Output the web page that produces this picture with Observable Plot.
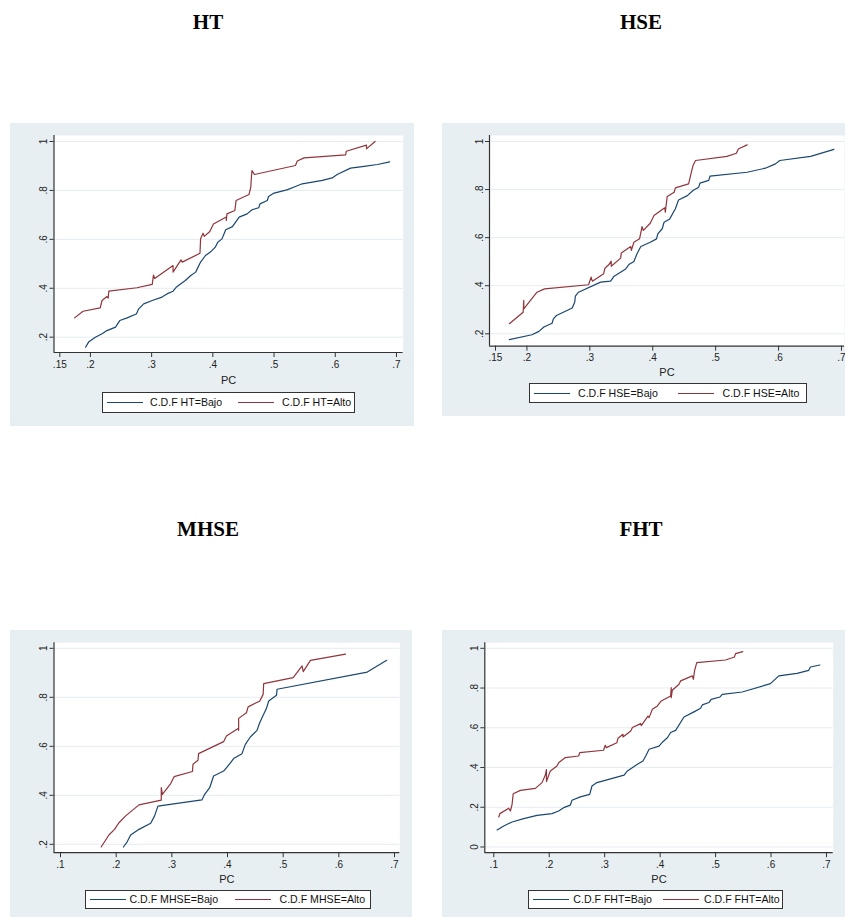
<!DOCTYPE html>
<html><head><meta charset="utf-8">
<script src="https://cdn.jsdelivr.net/npm/d3@7"></script>
<script src="https://cdn.jsdelivr.net/npm/@observablehq/plot@0.6"></script>
<style>
body{margin:0;background:#fff;width:845px;height:917px;position:relative;overflow:hidden;font-family:"Liberation Sans",Arial,sans-serif;}
.title{position:absolute;font-family:"Liberation Serif","Times New Roman",serif;font-weight:bold;font-size:21px;line-height:21px;text-align:center;width:200px;color:#000}
.panel{position:absolute;background:#e8eff2}
.panel svg{position:absolute;left:0;top:0}
.legend{position:absolute;background:#fff;border:1px solid #333;box-sizing:border-box;}
.sw{position:absolute;height:1px}
.lt{position:absolute;top:0;font-size:10.6px;color:#111;white-space:nowrap}
</style></head><body>
<script>
// ---------- data ----------
const titles = ["HT", "HSE", "MHSE", "FHT"];
const seriesNames = ["Bajo", "Alto"];
const xTicks1 = [0.15, 0.2, 0.3, 0.4, 0.5, 0.6, 0.7];
const xTicks2 = [0.1, 0.2, 0.3, 0.4, 0.5, 0.6, 0.7];
const yTicks1 = [0.2, 0.4, 0.6, 0.8, 1];
const yTicks2 = [0, 0.2, 0.4, 0.6, 0.8, 1];

const htBajoX = [0.192,0.197,0.208,0.219,0.227,0.241,0.248,0.260,0.275,0.279,0.287,0.301,0.317,0.325,0.335,0.340,0.355,0.364,0.372,0.380,0.388,0.396,0.404,0.408,0.415,0.421,0.432,0.443,0.456,0.464,0.475,0.477,0.489,0.491,0.500,0.521,0.535,0.546,0.579,0.595,0.603,0.625,0.647,0.669,0.689];
const htBajoY = [0.159,0.180,0.200,0.214,0.227,0.241,0.268,0.279,0.295,0.316,0.336,0.350,0.364,0.377,0.388,0.404,0.432,0.452,0.466,0.507,0.534,0.548,0.568,0.588,0.602,0.639,0.652,0.691,0.704,0.721,0.729,0.745,0.759,0.775,0.789,0.802,0.816,0.827,0.841,0.851,0.865,0.891,0.898,0.906,0.917];
const htAltoX = [0.174,0.188,0.216,0.219,0.227,0.229,0.230,0.276,0.301,0.303,0.305,0.335,0.335,0.348,0.350,0.379,0.380,0.384,0.386,0.395,0.401,0.422,0.422,0.423,0.436,0.438,0.459,0.462,0.463,0.464,0.468,0.535,0.538,0.549,0.617,0.618,0.651,0.651,0.665];
const htAltoY = [0.279,0.306,0.320,0.350,0.366,0.360,0.388,0.402,0.416,0.454,0.440,0.493,0.466,0.516,0.507,0.543,0.602,0.625,0.612,0.632,0.663,0.691,0.677,0.704,0.718,0.759,0.783,0.813,0.854,0.881,0.865,0.902,0.920,0.933,0.945,0.960,0.985,0.970,1.0];

const hseBajoX = [0.172,0.208,0.219,0.227,0.240,0.242,0.247,0.272,0.276,0.277,0.282,0.317,0.333,0.338,0.357,0.362,0.370,0.375,0.381,0.396,0.406,0.408,0.415,0.418,0.427,0.436,0.441,0.455,0.464,0.473,0.475,0.489,0.491,0.550,0.579,0.595,0.602,0.651,0.688];
const hseBajoY = [0.176,0.196,0.210,0.228,0.244,0.262,0.276,0.307,0.332,0.357,0.373,0.415,0.419,0.438,0.470,0.488,0.501,0.533,0.563,0.581,0.595,0.616,0.637,0.664,0.678,0.720,0.757,0.775,0.796,0.810,0.827,0.838,0.856,0.872,0.889,0.907,0.921,0.938,0.967];
const hseAltoX = [0.172,0.194,0.195,0.195,0.216,0.228,0.298,0.302,0.304,0.322,0.324,0.330,0.334,0.334,0.349,0.350,0.365,0.366,0.370,0.379,0.383,0.385,0.396,0.402,0.419,0.420,0.423,0.434,0.436,0.457,0.462,0.464,0.468,0.518,0.533,0.536,0.550];
const hseAltoY = [0.242,0.290,0.339,0.304,0.373,0.387,0.404,0.436,0.419,0.450,0.473,0.487,0.502,0.481,0.515,0.536,0.563,0.547,0.581,0.595,0.646,0.630,0.660,0.692,0.724,0.706,0.771,0.789,0.807,0.824,0.879,0.900,0.921,0.938,0.951,0.969,0.986];

const mhseBajoX = [0.213,0.220,0.226,0.241,0.262,0.269,0.275,0.354,0.359,0.368,0.375,0.393,0.401,0.411,0.426,0.432,0.441,0.453,0.458,0.470,0.474,0.488,0.489,0.651,0.686];
const mhseBajoY = [0.189,0.211,0.238,0.261,0.286,0.316,0.356,0.381,0.404,0.431,0.479,0.499,0.520,0.550,0.570,0.608,0.638,0.665,0.697,0.755,0.785,0.808,0.833,0.903,0.951];
const mhseAltoX = [0.173,0.187,0.197,0.205,0.217,0.241,0.281,0.281,0.283,0.298,0.304,0.337,0.338,0.347,0.348,0.393,0.398,0.419,0.420,0.420,0.434,0.437,0.458,0.464,0.465,0.518,0.534,0.536,0.549,0.612];
const mhseAltoY = [0.189,0.238,0.261,0.288,0.316,0.361,0.380,0.431,0.404,0.448,0.476,0.497,0.527,0.543,0.570,0.619,0.642,0.673,0.665,0.714,0.737,0.761,0.785,0.812,0.856,0.880,0.928,0.905,0.951,0.976];

const fhtBajoX = [0.106,0.118,0.133,0.154,0.178,0.205,0.217,0.226,0.238,0.241,0.256,0.273,0.277,0.286,0.335,0.341,0.359,0.369,0.374,0.380,0.398,0.405,0.413,0.419,0.428,0.443,0.461,0.473,0.476,0.488,0.492,0.508,0.512,0.548,0.599,0.614,0.647,0.668,0.671,0.688];
const fhtBajoY = [0.086,0.106,0.126,0.143,0.159,0.168,0.181,0.198,0.211,0.235,0.252,0.265,0.307,0.324,0.362,0.383,0.416,0.433,0.458,0.492,0.508,0.530,0.550,0.576,0.587,0.654,0.680,0.698,0.715,0.727,0.743,0.755,0.768,0.780,0.822,0.861,0.874,0.889,0.906,0.916];
const fhtAltoX = [0.109,0.111,0.127,0.130,0.133,0.135,0.148,0.175,0.187,0.193,0.195,0.195,0.202,0.214,0.217,0.229,0.253,0.255,0.298,0.301,0.303,0.322,0.324,0.333,0.333,0.347,0.350,0.365,0.366,0.378,0.380,0.386,0.395,0.402,0.419,0.420,0.420,0.422,0.434,0.437,0.458,0.460,0.462,0.466,0.518,0.534,0.536,0.549];
const fhtAltoY = [0.151,0.168,0.195,0.181,0.215,0.268,0.285,0.295,0.324,0.362,0.390,0.330,0.383,0.408,0.424,0.450,0.458,0.475,0.487,0.512,0.500,0.525,0.547,0.567,0.554,0.584,0.601,0.621,0.611,0.659,0.651,0.693,0.710,0.735,0.760,0.802,0.752,0.789,0.819,0.836,0.861,0.844,0.886,0.928,0.941,0.956,0.973,0.983];

// ---------- layout ----------
const colors = {Bajo: "#1a476f", Alto: "#90353b"};
const layout = [
  {title: [108, 11.5], rect: [10, 123, 404, 303], m: [12, 11.3, 74, 43.5], xd: [0.1405, 0.711], yd: [0.1374, 1.0245], xt: xTicks1, yt: yTicks1, pcDy: 28,
   leg: [102, 392, 253, 21], legSw: [4, 135], legTx: [47, 179], bx: htBajoX, by: htBajoY, ax: htAltoX, ay: htAltoY},
  {title: [541, 11.5], rect: [442, 123, 403, 293], m: [12, 1, 70.3, 47], xd: [0.1405, 0.7048], yd: [0.1484, 1.025], xt: xTicks1, yt: yTicks1, pcDy: 26,
   leg: [529, 383, 278, 20], legSw: [4, 148], legTx: [48, 192.5], bx: hseBajoX, by: hseBajoY, ax: hseAltoX, ay: hseAltoY},
  {title: [108, 519], rect: [10, 629.5, 402, 287.5], m: [12.2, 12.7, 65.3, 43.5], xd: [0.0883, 0.7095], yd: [0.1657, 1.0229], xt: xTicks2, yt: yTicks1, pcDy: 26.3,
   leg: [85, 890, 286, 19], legSw: [3.6, 149], legTx: [43.5, 193.5], bx: mhseBajoX, by: mhseBajoY, ax: mhseAltoX, ay: mhseAltoY},
  {title: [541, 519], rect: [442, 629.5, 403, 287.5], m: [12.2, 12.3, 65.3, 42.3], xd: [0.0838, 0.7121], yd: [-0.0287, 1.0282], xt: xTicks2, yt: yTicks2, pcDy: 26.3,
   leg: [528, 890, 255, 19], legSw: [4.3, 134], legTx: [44.3, 175], bx: fhtBajoX, by: fhtBajoY, ax: fhtAltoX, ay: fhtAltoY}
];

const fmt = d => d === 0 ? "0" : d === 1 ? "1" : String(d).replace(/^0/, "");
const rows = (X, Y) => X.slice(0, Math.min(X.length, Y.length)).map((x, i) => ({x, y: Y[i]}));

layout.forEach((L, k) => {
  const t = document.createElement("div");
  t.className = "title";
  t.style.left = L.title[0] + "px";
  t.style.top = L.title[1] + "px";
  t.textContent = titles[k];
  document.body.appendChild(t);

  const p = document.createElement("div");
  p.className = "panel";
  const [px, py, pw, ph] = L.rect;
  Object.assign(p.style, {left: px + "px", top: py + "px", width: pw + "px", height: ph + "px"});
  document.body.appendChild(p);

  const bajo = rows(L.bx, L.by), alto = rows(L.ax, L.ay);
  const chart = Plot.plot({
    width: pw, height: ph,
    marginTop: L.m[0], marginRight: L.m[1], marginBottom: L.m[2], marginLeft: L.m[3],
    style: {background: "transparent", fontFamily: "'Liberation Sans', Arial, sans-serif", fontSize: "10px", color: "#222", overflow: "visible"},
    x: {domain: L.xd},
    y: {domain: L.yd},
    marks: [
      Plot.frame({fill: "white", stroke: "none"}),
      Plot.gridY(L.yt, {stroke: "#e4ecf0", strokeOpacity: 1, strokeWidth: 1}),
      Plot.line(bajo, {x: "x", y: "y", stroke: colors.Bajo, strokeWidth: 1.2}),
      Plot.line(alto, {x: "x", y: "y", stroke: colors.Alto, strokeWidth: 1.2}),
      Plot.axisX(L.xt, {tickSize: 5, tickPadding: 3, tickFormat: fmt, label: null, stroke: "#333", fill: "#222"}),
      Plot.axisY(L.yt, {tickSize: 4, tickPadding: 3, tickRotate: -90, tickFormat: fmt, label: null, stroke: "#333", fill: "#222"}),
      Plot.ruleX([L.xd[0]], {stroke: "#333", strokeWidth: 1.2}),
      Plot.ruleY([L.yd[0]], {stroke: "#333", strokeWidth: 1.2}),
      Plot.text(["PC"], {frameAnchor: "bottom", dy: L.pcDy, lineAnchor: "middle", fontSize: 11, fill: "#222"})
    ]
  });
  p.appendChild(chart);

  const [lx, ly, lw, lh] = L.leg;
  const lg = document.createElement("div");
  lg.className = "legend";
  Object.assign(lg.style, {left: lx + "px", top: ly + "px", width: lw + "px", height: lh + "px"});
  seriesNames.forEach((s, i) => {
    const sw = document.createElement("div");
    sw.className = "sw";
    Object.assign(sw.style, {left: L.legSw[i] + "px", width: "36px", top: Math.floor((lh - 2) / 2) + "px", background: colors[s]});
    lg.appendChild(sw);
    const tx = document.createElement("div");
    tx.className = "lt";
    Object.assign(tx.style, {left: L.legTx[i] + "px", lineHeight: (lh - 2) + "px"});
    tx.textContent = "C.D.F " + titles[k] + "=" + s;
    lg.appendChild(tx);
  });
  document.body.appendChild(lg);
});
</script>
</body></html>
